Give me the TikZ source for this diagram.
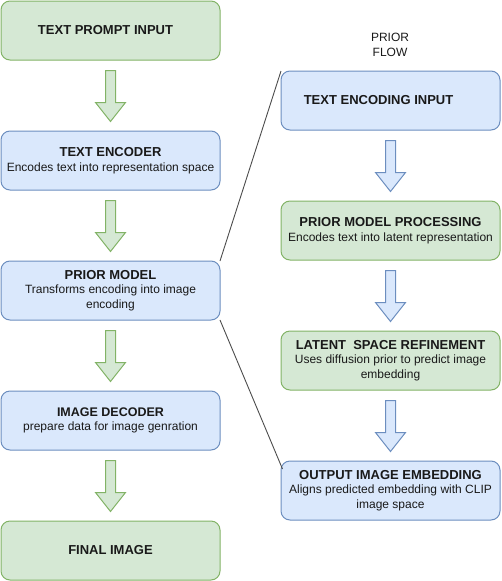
\documentclass[tikz,border=0pt]{standalone}
\usepackage{fontspec}
\setmainfont{Liberation Sans}
\usepackage{xcolor}
\usepackage{tikz}
\usetikzlibrary{calc}

\definecolor{gfill}{HTML}{D5E8D4}
\definecolor{gline}{HTML}{82B366}
\definecolor{bfill}{HTML}{DAE8FC}
\definecolor{bline}{HTML}{6C8EBF}

\begin{document}
\begin{tikzpicture}[
  x=1pt, y=-1pt,
  every node/.style={font=\fontsize{12}{14.5}\selectfont, text=black!90},
  box/.style={rectangle,rounded corners=9pt,draw,line width=1pt,minimum width=219pt,
    minimum height=59pt,inner sep=2pt,align=center,outer sep=0pt},
  gbox/.style={box,fill=gfill,draw=gline},
  bbox/.style={box,fill=bfill,draw=bline},
  garr/.style={fill=gfill,draw=gline,line width=1pt},
  barr/.style={fill=bfill,draw=bline,line width=1pt},
  link/.style={draw=black!70,line width=0.9pt}
]
\newcommand{\ttl}[1]{{\fontsize{13}{15}\selectfont\bfseries #1}}
\useasboundingbox (0,0) rectangle (501,581);
\def\dy{130}
% left column: main pipeline
\node[gbox] (prompt) at (110.5,30.5) {\ttl{TEXT PROMPT INPUT}\hspace*{10pt}};
\node[bbox] (encoder) at (110.5,30.5+\dy) {\ttl{TEXT ENCODER}\\Encodes text into representation space};
\node[bbox] (prior) at (110.5,30.5+2*\dy) {\ttl{PRIOR MODEL}\\Transforms encoding into image\\encoding};
\node[bbox] (decoder) at (110.5,30.5+3*\dy) {{\fontsize{12.5}{15}\selectfont\bfseries IMAGE DECODER}\\prepare data for image genration};
\node[gbox] (final) at (110.5,30.5+4*\dy) {\ttl{FINAL IMAGE}};

% right column: prior flow
\node[align=center] (flow) at (390,45) {PRIOR\\FLOW};
\node[bbox] (encin) at (390.5,100.5) {\ttl{TEXT ENCODING INPUT}\hspace*{24pt}};
\node[gbox] (proc) at (390.5,100.5+\dy) {\ttl{PRIOR MODEL PROCESSING}\\Encodes text into latent representation};
\node[gbox] (refine) at (390.5,100.5+2*\dy) {\ttl{LATENT\ \ SPACE REFINEMENT}\\Uses diffusion prior to predict image\\embedding};
\node[bbox] (outemb) at (390.5,100.5+3*\dy) {\ttl{OUTPUT IMAGE EMBEDDING}\\Aligns predicted embedding with CLIP\\image space};

% block arrows
\foreach \a/\b/\s in {prompt/encoder/garr,encoder/prior/garr,prior/decoder/garr,decoder/final/garr,
    encin/proc/barr,proc/refine/barr,refine/outemb/barr}
  \draw[\s] ($(\a.south)+(-5,10.5)$) -- ($(\a.south)+(5,10.5)$) -- ($(\b.north)+(5,-28.5)$)
    -- ($(\b.north)+(15,-28.5)$) -- ($(\b.north)+(0,-9.5)$) -- ($(\b.north)+(-15,-28.5)$)
    -- ($(\b.north)+(-5,-28.5)$) -- cycle;

% zoom lines from the prior model to its flow
\draw[link] (prior.north east) -- (encin.north west);
\draw[link] (prior.south east) -- ($(outemb.north west)+(1.5,8)$);
\end{tikzpicture}
\end{document}
